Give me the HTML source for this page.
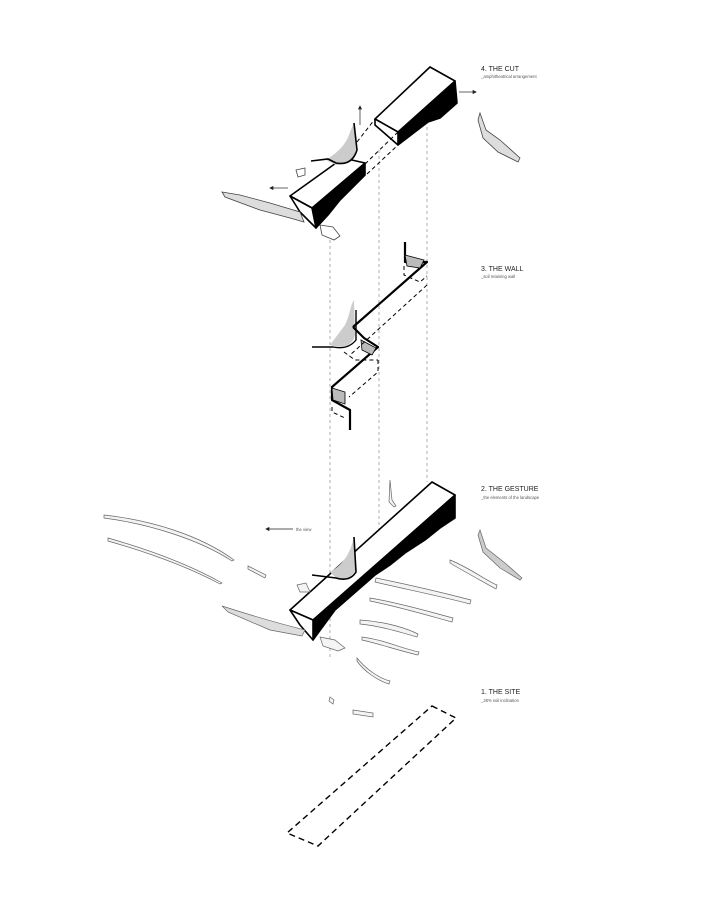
<!DOCTYPE html>
<html><head><meta charset="utf-8"><style>
html,body{margin:0;padding:0;background:#fff;}
svg{display:block;font-family:"Liberation Sans",sans-serif;}
</style></head><body>
<svg width="720" height="900" viewBox="0 0 720 900" xmlns="http://www.w3.org/2000/svg">
<g stroke="#999" stroke-width="0.8" stroke-dasharray="3,3" fill="none">
<line x1="330" y1="228" x2="330" y2="660"/>
<line x1="379" y1="150" x2="379" y2="540"/>
<line x1="427" y1="97" x2="427" y2="482"/>
</g>
<g fill="#222">
<text x="481" y="71" font-size="7">4. THE CUT</text>
<text x="481" y="78" font-size="4.2" fill="#555">_amphitheatrical arrangement</text>
<text x="481" y="271" font-size="7">3. THE WALL</text>
<text x="481" y="278" font-size="4.2" fill="#555">_soil retaining wall</text>
<text x="481" y="491" font-size="7">2. THE GESTURE</text>
<text x="481" y="499" font-size="4.2" fill="#555">_the elements of the landscape</text>
<text x="481" y="694" font-size="7">1. THE SITE</text>
<text x="481" y="702" font-size="4.2" fill="#555">_28% soil inclination</text>
<text x="296" y="531" font-size="4.2" fill="#555">the view</text>
</g>
<g stroke="#222" stroke-width="0.7" fill="#222">
<line x1="459" y1="92" x2="474" y2="92"/><polygon points="476,92 473,90.5 473,93.5"/>
<line x1="272" y1="188" x2="288" y2="188"/><polygon points="270,188 273,186.5 273,189.5"/>
<line x1="360" y1="125" x2="360" y2="108"/><polygon points="360,106 358.5,109 361.5,109"/>
<line x1="268" y1="529" x2="293" y2="529"/><polygon points="266,529 269,527.5 269,530.5"/>
</g>

<!-- THE CUT -->
<g stroke="#000" stroke-width="1.6" stroke-linejoin="round">
<polygon points="455,81 457,103 440,118 428,122 398,145 398,132" fill="#000"/>
<polygon points="375,119 430,67 455,81 398,132" fill="#fff"/>
<polygon points="375,119 398,132 398,145 375,125" fill="#fff"/>
<polygon points="312,208 365,163 365,175 340,200 328,215 316,228" fill="#000"/>
<polygon points="290,196 343,158 365,163 312,208" fill="#fff"/>
<polygon points="290,196 312,208 316,228 300,212" fill="#fff"/>
</g>
<path d="M326,160 C338,152 346,145 350,132 L354,123 L356,150 Q352,165 336,165Z" fill="#ccc"/>
<path d="M354,123 L357,150 Q352,166 336,163 L328,159 L311,161" fill="none" stroke="#000" stroke-width="1.6"/>
<g stroke="#000" stroke-width="1" stroke-dasharray="4,3" fill="none">
<line x1="357" y1="142" x2="375" y2="119"/>
<line x1="365" y1="164" x2="398" y2="132"/>
<line x1="367" y1="174" x2="398" y2="145"/>
</g>
<g fill="#fff" stroke="#444" stroke-width="0.8">
<path d="M222,192 L240,195 L270,203 L300,212 L304,222 L290,218 L260,210 L225,197Z" fill="#ddd"/>
<path d="M296,170 L305,168 L305,175 L298,177Z"/>
<path d="M320,225 L333,227 L340,236 L334,240 L322,235Z"/>
<path d="M480,113 L486,130 L500,140 L520,158 L518,162 L498,152 L483,138 L478,120Z" fill="#ddd"/>
</g>

<!-- THE WALL -->
<path d="M345,325 C350,315 350,306 354,300 L355,335 C352,348 340,348 330,345Z" fill="#ccc"/>
<path d="M356,310 L356,340 Q348,350 333,347 L312,347" fill="none" stroke="#000" stroke-width="1.4"/>
<g stroke="#000" stroke-width="2.2" fill="none" stroke-linejoin="round">
<polyline points="405,242 405,262 427,262 353,327"/>
<polyline points="353,327 364,338 378,347 332,387 332,400 350,410 350,430"/>
</g>
<g fill="#bbb" stroke="#000" stroke-width="0.8">
<polygon points="405,255 424,260 420,268 407,266"/>
<polygon points="361,340 376,348 372,355 362,350"/>
<polygon points="332,388 345,392 345,404 333,400"/>
</g>
<g stroke="#000" stroke-width="1" stroke-dasharray="4,3" fill="none">
<polyline points="404,266 404,275 420,282 427,276"/>
<polyline points="427,285 349,356"/>
<polyline points="344,352 355,360 378,360"/>
<polyline points="378,360 378,372 349,397"/>
<polyline points="332,407 332,412 345,418"/>
</g>

<!-- THE GESTURE -->
<g stroke="#000" stroke-width="1.6" stroke-linejoin="round">
<polygon points="313,620 455,495 455,518 440,528 425,540 405,553 390,565 375,575 335,610 313,640" fill="#000"/>
<polygon points="290,610 432,482 455,495 313,620" fill="#fff"/>
<polygon points="290,610 313,620 313,640 300,625" fill="#fff"/>
</g>
<path d="M330,572 C342,565 350,555 354,537 L356,570 Q350,580 338,580Z" fill="#ccc"/>
<path d="M354,537 L356,572 Q350,582 336,578 L312,575" fill="none" stroke="#000" stroke-width="1.6"/>
<g fill="#f4f4f4" stroke="#666" stroke-width="0.7">
<path d="M104,515 C150,520 200,535 234,560 L232,561 C200,540 150,524 104,518Z"/>
<path d="M108,538 C150,550 190,565 222,583 L220,584 C190,568 150,553 108,541Z"/>
<path d="M248,566 L266,575 L265,578 L248,569Z"/>
<path d="M222,606 C250,615 285,625 305,630 L302,636 L270,630 L228,612Z" fill="#ddd"/>
<path d="M297,585 L306,583 L310,592 L300,592Z"/>
<path d="M320,637 L335,640 L345,648 L338,651 L323,646Z"/>
<path d="M376,578 C410,585 440,592 471,600 L470,604 C440,596 400,588 375,582Z"/>
<path d="M370,598 C400,603 430,612 453,618 L452,622 C430,616 400,607 370,601Z"/>
<path d="M360,620 C390,622 410,630 418,634 L417,637 C400,632 380,626 360,624Z"/>
<path d="M362,637 C385,640 400,648 419,652 L418,655 C400,651 380,644 362,640Z"/>
<path d="M450,560 C470,568 485,580 497,585 L496,589 C480,580 465,572 450,563Z"/>
<path d="M357,658 C365,668 378,678 390,681 L389,684 C376,680 363,670 357,661Z"/>
<path d="M330,697 L334,700 L333,704 L329,701Z"/>
<path d="M353,710 L373,713 L373,717 L353,714Z"/>
<path d="M480,530 L486,548 L505,563 L522,578 L520,580 L500,568 L483,552 L478,535Z" fill="#ccc"/>
<path d="M390,480 L392,500 L396,506 L394,507 L389,502Z"/>
</g>

<!-- THE SITE -->
<polygon points="432,706 456,718 318,846 287,833" fill="none" stroke="#000" stroke-width="1.4" stroke-dasharray="6,4"/>
</svg>
</body></html>
